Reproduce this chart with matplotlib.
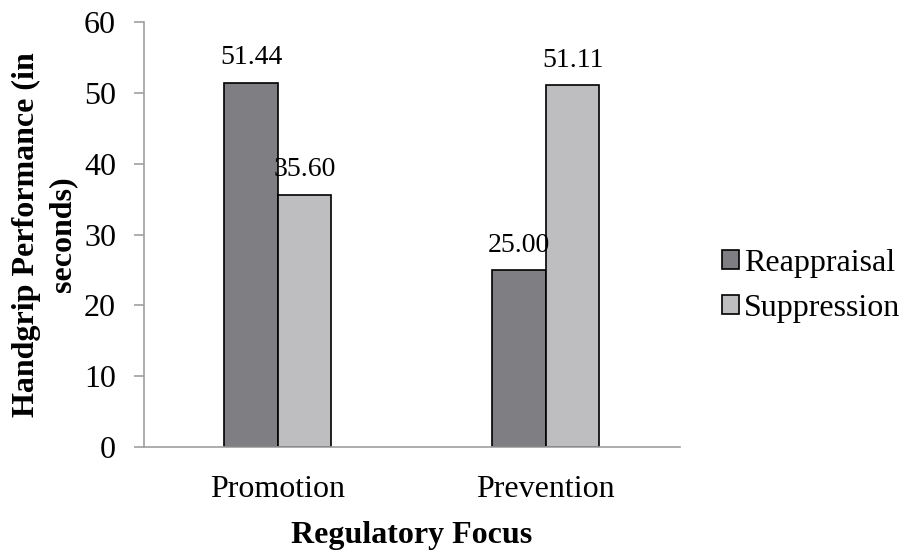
import matplotlib
matplotlib.use("Agg")
import matplotlib.pyplot as plt
import numpy as np

categories = ["Promotion", "Prevention"]
series_names = ["Reappraisal", "Suppression"]
reappraisal = [51.44, 25.00]
suppression = [35.60, 51.11]
yticks = [0, 10, 20, 30, 40, 50, 60]

plt.rcParams['font.family'] = ['Liberation Serif', 'DejaVu Serif']

fig = plt.figure(figsize=(9.1, 5.52), dpi=100)
ax = fig.add_axes([0.158, 0.19, 0.589, 0.77])

x = np.arange(len(categories))
w = 0.2
colors = ["#7f7f83", "#bebec0"]
b1 = ax.bar(x - w/2, reappraisal, w, color=colors[0], edgecolor="black", linewidth=1.2, label=series_names[0])
b2 = ax.bar(x + w/2, suppression, w, color=colors[1], edgecolor="black", linewidth=1.2, label=series_names[1])

for bars, vals in ((b1, reappraisal), (b2, suppression)):
    for b, v in zip(bars, vals):
        ax.annotate(f"{v:.2f}", (b.get_x() + b.get_width()/2, v), xytext=(0, 9),
                    textcoords="offset points", ha="center", va="bottom", fontsize=20)

ax.set_xlim(-0.5, 1.5)
ax.set_ylim(0, 60)
ax.set_yticks(yticks)
ax.set_xticks(x)
ax.set_xticklabels(categories, fontsize=23)
ax.tick_params(axis='y', labelsize=23, length=7, color="#a0a0a0", width=1.2, pad=13)
ax.tick_params(axis='x', length=0, pad=20)

for s in ["top", "right"]:
    ax.spines[s].set_visible(False)
for s in ["left", "bottom"]:
    ax.spines[s].set_color("#a0a0a0")
    ax.spines[s].set_linewidth(1.2)

ax.set_xlabel("Regulatory Focus", fontsize=23, fontweight="bold", labelpad=12)
ax.set_ylabel("Handgrip Performance (in\nseconds)", fontsize=23, fontweight="bold", labelpad=5,
              linespacing=1.3)

leg = ax.legend(loc="center left", bbox_to_anchor=(1.025, 0.38), frameon=False, fontsize=23,
                handlelength=0.55, handleheight=0.55, handletextpad=0.15, labelspacing=0.5)

fig.savefig("out.png", dpi=100)
